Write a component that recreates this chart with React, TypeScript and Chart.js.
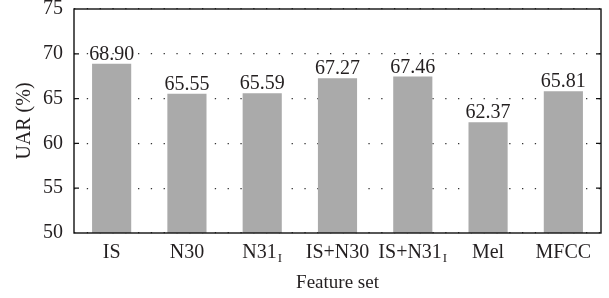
import React, { useEffect, useRef } from "react";
import { Chart, registerables } from "chart.js";

Chart.register(...registerables);

const categories = ["IS", "N30", "N31_I", "IS+N30", "IS+N31_I", "Mel", "MFCC"];
const uarValues = [68.9, 65.55, 65.59, 67.27, 67.46, 62.37, 65.81];
const yMin = 50;
const yMax = 75;
const yStep = 5;
const xTitle = "Feature set";
const yTitle = "UAR (%)";

const FONT = "'Liberation Serif', 'Times New Roman', serif";
const INK = "#231f20";

function drawRich(ctx: CanvasRenderingContext2D, label: string, cx: number, y: number, size: number) {
  const parts = label.split("_");
  const main = parts[0];
  const sub = parts[1] || "";
  const subSize = Math.round(size * 0.66);
  ctx.font = `${size}px ${FONT}`;
  const wMain = ctx.measureText(main).width;
  ctx.font = `${subSize}px ${FONT}`;
  const wSub = sub ? ctx.measureText(sub).width + 1 : 0;
  const start = cx - (wMain + wSub) / 2;
  ctx.textAlign = "left";
  ctx.textBaseline = "alphabetic";
  ctx.font = `${size}px ${FONT}`;
  ctx.fillText(main, start, y);
  if (sub) {
    ctx.font = `${subSize}px ${FONT}`;
    ctx.fillText(sub, start + wMain + 1, y + 4);
  }
}

const decorPlugin = {
  id: "decor",
  afterDatasetsDraw(chart: any) {
    const { ctx, chartArea } = chart;
    const xs = chart.scales.x;
    const ys = chart.scales.y;
    ctx.save();
    ctx.strokeStyle = "#111";
    ctx.lineWidth = 1.4;
    ctx.strokeRect(chartArea.left, chartArea.top, chartArea.right - chartArea.left, chartArea.bottom - chartArea.top);
    ctx.lineWidth = 1.2;
    for (let v = yMin + yStep; v < yMax; v += yStep) {
      const py = ys.getPixelForValue(v);
      ctx.beginPath();
      ctx.moveTo(chartArea.left, py);
      ctx.lineTo(chartArea.left + 5, py);
      ctx.moveTo(chartArea.right, py);
      ctx.lineTo(chartArea.right - 5, py);
      ctx.stroke();
    }
    ctx.fillStyle = INK;
    ctx.font = `20px ${FONT}`;
    ctx.textAlign = "center";
    ctx.textBaseline = "alphabetic";
    const meta = chart.getDatasetMeta(0);
    meta.data.forEach((bar: any, i: number) => {
      ctx.fillText(uarValues[i].toFixed(2), bar.x, bar.y - 4);
    });
    categories.forEach((c, i) => {
      const px = xs.getPixelForValue(i);
      drawRich(ctx, c, px, chartArea.bottom + 25, 20);
    });
    ctx.restore();
  },
};

export default function App() {
  const ref = useRef<HTMLCanvasElement | null>(null);
  useEffect(() => {
    document.body.style.margin = "0";
    const chart = new Chart(ref.current as HTMLCanvasElement, {
      type: "bar",
      data: {
        labels: categories.map((c) => c.replace("_", "")),
        datasets: [
          {
            data: uarValues,
            backgroundColor: "#aaaaaa",
            borderWidth: 0,
            categoryPercentage: 1,
            barPercentage: 0.52,
          },
        ],
      },
      options: {
        animation: false,
        responsive: false,
        maintainAspectRatio: false,
        layout: { padding: { top: 9, right: 8, left: 0, bottom: 0 } },
        plugins: { legend: { display: false }, tooltip: { enabled: false } },
        scales: {
          x: {
            grid: { display: false },
            border: { display: false },
            ticks: { display: false },
            title: {
              display: true,
              text: xTitle,
              color: INK,
              font: { family: FONT, size: 19 },
              padding: { top: 0, bottom: 4 },
            },
            afterFit(scale: any) {
              scale.height = 65;
              scale.paddingLeft = 0;
              scale.paddingRight = 0;
            },
          },
          y: {
            min: yMin,
            max: yMax,
            ticks: {
              stepSize: yStep,
              color: INK,
              padding: 11,
              font: { family: FONT, size: 20 },
            },
            grid: { color: "#333", lineWidth: 1.2, drawTicks: false },
            border: { display: false, dash: [1.3, 11.5] },
            title: {
              display: true,
              text: yTitle,
              color: INK,
              font: { family: FONT, size: 20 },
              padding: { top: 13, bottom: 0 },
            },
            afterFit(scale: any) {
              scale.width = 74;
              scale.paddingTop = 0;
              scale.paddingBottom = 0;
            },
          },
        },
      },
      plugins: [decorPlugin],
    });
    return () => chart.destroy();
  }, []);
  return (
    <div style={{ position: "fixed", left: 0, top: 0, width: 609, height: 298, background: "#fff" }}>
      <canvas ref={ref} width={609} height={298} style={{ display: "block" }} />
    </div>
  );
}
